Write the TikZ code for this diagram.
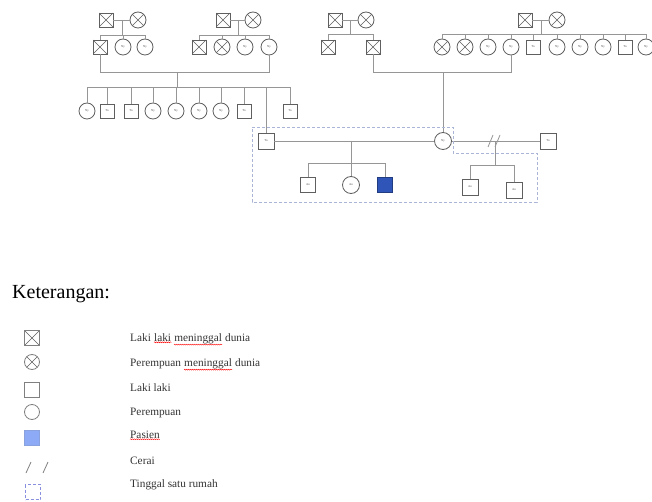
\documentclass[tikz,border=0pt]{standalone}
\usepackage{fontspec}
\setmainfont{Liberation Serif}
\usetikzlibrary{positioning,shapes,decorations.pathmorphing}
\definecolor{garisabu}{RGB}{150,150,150}
\definecolor{tepi}{RGB}{95,95,95}
\definecolor{biru}{RGB}{47,85,185}
\definecolor{birumuda}{RGB}{140,170,245}
\definecolor{rumahbiru}{RGB}{170,180,215}

\begin{document}
\begin{tikzpicture}[x=1pt,y=-1pt,
  garis/.style={draw=garisabu,line width=0.8pt},
  pria/.style={rectangle,draw=tepi,line width=0.8pt,fill=white,minimum size=14pt,inner sep=0pt,
    font=\fontsize{3}{3}\selectfont,text=black!70},
  wanita/.style={pria,circle,minimum size=16pt},
  mati/.style={path picture={\draw[tepi,line width=0.6pt]
    (path picture bounding box.north west) -- (path picture bounding box.south east)
    (path picture bounding box.north east) -- (path picture bounding box.south west);}},
  rumah/.style={draw=rumahbiru,densely dashed,line width=0.6pt},
  ket/.style={anchor=base west,inner sep=0pt,font=\fontsize{11.3}{13}\selectfont,text=black!80},
  kata/.style={ket,base right=2.8pt of #1},
  salah/.style={draw=red,line width=0.4pt,decorate,decoration={snake,amplitude=0.5pt,segment length=2pt}}]
\useasboundingbox (0,0) rectangle (652,502);

% generasi I
\node[pria,mati] (ma) at (106,20) {};
\node[wanita,mati] (fa) at (138,20) {};
\node[pria,mati] (mb) at (223,20) {};
\node[wanita,mati] (fb) at (253,20) {};
\node[pria,mati] (mc) at (335,20) {};
\node[wanita,mati] (fc) at (366,20) {};
\node[pria,mati] (md) at (525,20) {};
\node[wanita,mati] (fd) at (557,20) {};

% generasi II
\node[pria,mati] (a1) at (100,47) {};
\node[wanita] (a2) at (123,47) {Ny};
\node[wanita] (a3) at (145,47) {Ny};
\node[pria,mati] (b1) at (199,47) {};
\node[wanita,mati] (b2) at (222,47) {};
\node[wanita] (b3) at (245,47) {Ny};
\node[wanita] (b4) at (269,47) {Ny};
\node[pria,mati] (c1) at (328,47) {};
\node[pria,mati] (c2) at (373,47) {};
\node[wanita,mati] (d1) at (442,47) {};
\node[wanita,mati] (d2) at (465,47) {};
\node[wanita] (d3) at (488,47) {Ny};
\node[wanita] (d4) at (511,47) {Ny};
\node[pria] (d5) at (533,47) {Tn};
\node[wanita] (d6) at (557,47) {Ny};
\node[wanita] (d7) at (580,47) {Ny};
\node[wanita] (d8) at (603,47) {Ny};
\node[pria] (d9) at (625,47) {Tn};
\node[wanita] (d10) at (646,47) {Ny};

\coordinate (ka) at (122,35);
\coordinate (kb) at (238,35);
\coordinate (kc) at (350,34);
\coordinate (kd) at (541,34);
\draw[garis] (ma) -- (fa);
\draw[garis] (mb) -- (fb);
\draw[garis] (mc) -- (fc);
\draw[garis] (md) -- (fd);
\draw[garis] (ka |- ma) -- (ka);
\draw[garis] (kb |- mb) -- (kb);
\draw[garis] (kc |- mc) -- (kc);
\draw[garis] (kd |- md) -- (kd);
\draw[garis] (a1 |- ka) -- (a3 |- ka);
\draw[garis] (b1 |- kb) -- (b4 |- kb);
\draw[garis] (c1 |- kc) -- (c2 |- kc);
\draw[garis] (d1 |- kd) -- (d10 |- kd);
\foreach \n in {a1,a2,a3} \draw[garis] (\n) -- (\n |- ka);
\foreach \n in {b1,b2,b3,b4} \draw[garis] (\n) -- (\n |- kb);
\foreach \n in {c1,c2} \draw[garis] (\n) -- (\n |- kc);
\foreach \n in {d1,d2,d3,d4,d5,d6,d7,d8,d9,d10} \draw[garis] (\n) -- (\n |- kd);

% generasi III
\node[wanita] (e1) at (87,111) {Ny};
\node[pria] (e2) at (107,111) {Tn};
\node[pria] (e3) at (131,111) {Tn};
\node[wanita] (e4) at (153,111) {Ny};
\node[wanita] (e5) at (176,111) {Ny};
\node[wanita] (e6) at (199,111) {Ny};
\node[wanita] (e7) at (221,111) {Ny};
\node[pria] (e8) at (244,111) {Tn};
\node[pria] (e9) at (290,111) {Tn};
\node[pria,minimum size=16pt] (suami) at (266,141) {Tn};
\node[wanita,minimum size=17pt] (istri) at (443,141) {Ny};
\node[pria,minimum size=16pt] (suami2) at (548,141) {Tn};

\coordinate (nika) at (177,72);
\coordinate (nikb) at (443,72);
\coordinate (ke) at (177,87);
\draw[garis] (a1) -- (a1 |- nika) -| (b4);
\draw[garis] (nika) -- (ke);
\draw[garis] (e1 |- ke) -- (e9 |- ke);
\foreach \n in {e1,e2,e3,e4,e5,e6,e7,e8,e9,suami} \draw[garis] (\n) -- (\n |- ke);
\draw[garis] (c2) -- (c2 |- nikb) -| (d4);
\draw[garis] (nikb) -- (istri);

% keluarga inti
\node[pria,minimum size=15pt] (anak1) at (308,185) {An};
\node[wanita,minimum size=17pt] (anak2) at (351,185) {An};
\node[pria,minimum size=15pt,fill=biru,draw=biru!70!black] (anak3) at (385,185) {};
\node[pria,minimum size=16pt] (anak4) at (470,187) {An};
\node[pria,minimum size=16pt] (anak5) at (514,190) {An};

\coordinate (kf) at (351,163);
\coordinate (cerai) at (495,141);
\coordinate (kg) at (495,165);
\draw[garis] (suami) -- (istri);
\draw[garis] (istri) -- (suami2);
\draw[garis] (kf |- suami) -- (kf);
\draw[garis] (anak1 |- kf) -- (anak3 |- kf);
\foreach \n in {anak1,anak2,anak3} \draw[garis] (\n) -- (\n |- kf);
\draw[garis] (cerai) ++(-7,6) -- ++(5,-12);
\draw[garis] (cerai) ++(0,6) -- ++(5,-12);
\draw[garis] (cerai) -- (kg);
\draw[garis] (anak4 |- kg) -- (anak5 |- kg);
\foreach \n in {anak4,anak5} \draw[garis] (\n) -- (\n |- kg);
\draw[rumah] (252,127) -- (453,127) -- (453,153) -- (537,153) -- (537,202) -- (252,202) -- cycle;

% keterangan
\node[anchor=base west,inner sep=0pt,font=\fontsize{20}{22}\selectfont] (judul) at (12,298) {Keterangan:};
\node[pria,mati,draw=gray,minimum size=15pt] (l1) at (32,338) {};
\node[wanita,mati,draw=gray,minimum size=15pt] (l2) at (32,362) {};
\node[pria,draw=gray,minimum size=15pt] (l3) at (32,390) {};
\node[wanita,draw=gray,minimum size=15pt] (l4) at (32,412) {};
\node[pria,draw=birumuda!80!gray,fill=birumuda,minimum size=15pt] (l5) at (32,438) {};
\coordinate (l6) at (37,467);
\draw[gray,line width=0.8pt] (l6) ++(-11,6) -- ++(5,-11);
\draw[gray,line width=0.8pt] (l6) ++(6,6) -- ++(5,-11);
\node[rumah,draw=rumahbiru!80!blue,line width=1pt,minimum size=15pt] (l7) at (33,492) {};
\node[ket] (t1a) at (130,341) {Laki};
\node[kata=t1a] (t1b) {laki};
\node[kata=t1b] (t1c) {meninggal};
\node[kata=t1c] (t1d) {dunia};
\node[ket] (t2a) at (130,366) {Perempuan};
\node[kata=t2a] (t2b) {meninggal};
\node[kata=t2b] (t2c) {dunia};
\node[ket] (t3) at (130,391) {Laki laki};
\node[ket] (t4) at (130,415) {Perempuan};
\node[ket] (t5) at (130,438) {Pasien};
\node[ket] (t6) at (130,464) {Cerai};
\node[ket] (t7) at (130,487) {Tinggal satu rumah};
\foreach \w in {t1b,t1c,t2b,t5} \draw[salah] ([yshift=-1pt]\w.south west) -- ([yshift=-1pt]\w.south east);
\end{tikzpicture}
\end{document}
